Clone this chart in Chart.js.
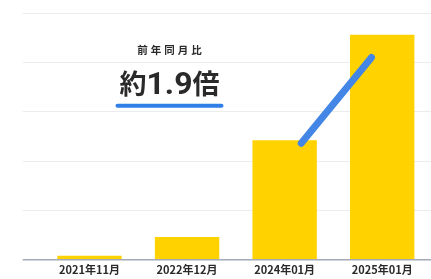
<!DOCTYPE html>
<html><head><meta charset="utf-8">
<script src="https://cdn.jsdelivr.net/npm/chart.js@4.4.1/dist/chart.umd.min.js"></script>
<style>html,body{margin:0;padding:0;background:#fff}#wrap{width:431px;height:279px}</style>
</head><body><div id="wrap"><canvas id="c"></canvas></div>
<script>
const categories = ['2021年11月', '2022年12月', '2024年01月', '2025年01月'];
const values = [0.08, 0.46, 2.42, 4.56];
const arrowX = [2.17, 2.89];
const arrowY = [2.36, 4.1];
const labelTitle = '前年同月比';
const labelPrefix = '約';
const labelNumber = '1.9';
const labelSuffix = '倍';

const annot = {
  id: 'annot',
  afterDatasetsDraw(chart) {
    const ctx = chart.ctx, x = chart.scales.x, y = chart.scales.y;
    const cx = x.getPixelForValue(0) + (x.getPixelForValue(1) - x.getPixelForValue(0)) * 0.82;
    ctx.save();
    ctx.fillStyle = '#2a2a2a';
    ctx.textAlign = 'center';
    ctx.textBaseline = 'middle';
    ctx.font = 'bold 10.5px "Noto Sans CJK JP"';
    ctx.letterSpacing = '3px';
    ctx.fillText(labelTitle, cx + 1.5, y.getPixelForValue(4.26));
    ctx.letterSpacing = '0px';
    ctx.textBaseline = 'alphabetic';
    const by = y.getPixelForValue(3.36);
    ctx.font = 'bold 27px "Noto Sans CJK JP"';
    const wP = ctx.measureText(labelPrefix).width;
    const wS = ctx.measureText(labelSuffix).width;
    ctx.font = 'bold 32px Roboto';
    const wN = ctx.measureText(labelNumber).width;
    const total = wP + wN + wS;
    let sx = cx - total / 2;
    ctx.textAlign = 'left';
    ctx.font = 'bold 27px "Noto Sans CJK JP"';
    ctx.fillText(labelPrefix, sx, by);
    ctx.font = 'bold 32px Roboto';
    ctx.fillText(labelNumber, sx + wP, by);
    ctx.font = 'bold 27px "Noto Sans CJK JP"';
    ctx.fillText(labelSuffix, sx + wP + wN, by);
    const uy = y.getPixelForValue(3.12);
    ctx.strokeStyle = '#2f7fe6';
    ctx.lineWidth = 4;
    ctx.lineCap = 'round';
    ctx.beginPath();
    ctx.moveTo(cx - 52, uy);
    ctx.lineTo(cx + 52, uy);
    ctx.stroke();
    ctx.restore();
  }
};

new Chart(document.getElementById('c'), {
  type: 'bar',
  data: {
    labels: categories,
    datasets: [
      {
        type: 'line',
        data: arrowX.map((v, i) => ({ x: v, y: arrowY[i] })),
        xAxisID: 'xa',
        borderColor: '#4386e6',
        borderWidth: 7,
        borderCapStyle: 'round',
        pointRadius: 0,
        order: 0
      },
      {
        type: 'bar',
        data: values,
        backgroundColor: '#ffd200',
        categoryPercentage: 1,
        barPercentage: 0.66,
        grouped: false,
        order: 1
      }
    ]
  },
  options: {
    responsive: true,
    maintainAspectRatio: false,
    animation: false,
    events: [],
    layout: { padding: { left: 22.7, right: 0, top: 13, bottom: 0 } },
    plugins: { legend: { display: false }, tooltip: { enabled: false } },
    scales: {
      x: {
        grid: { display: false, drawTicks: false },
        border: { display: false },
        ticks: { color: '#2a2a2a', font: { size: 11, weight: 'bold', family: '"Noto Sans CJK JP"' }, padding: 3 }
      },
      xa: {
        type: 'linear', display: false, min: -0.5, max: 3.5, offset: false, grid: { offset: false }
      },
      y: {
        min: 0, max: 5,
        ticks: { display: false, stepSize: 1 },
        border: { display: false },
        grid: {
          drawTicks: true, tickLength: 18,
          color: c => c.tick && c.tick.value === 0 ? '#a4a8b8' : '#ececec',
          lineWidth: c => c.tick && c.tick.value === 0 ? 1.5 : 1
        }
      }
    }
  },
  plugins: [annot]
});
</script></body></html>
